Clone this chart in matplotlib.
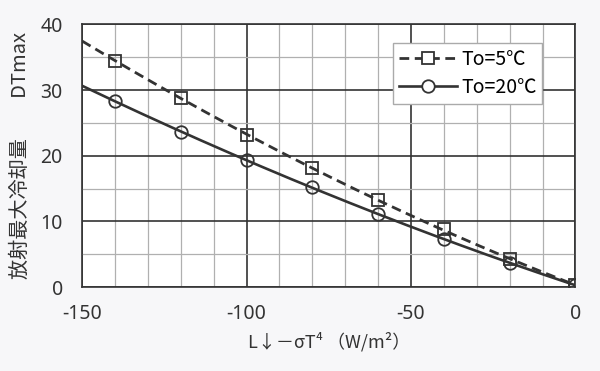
import numpy as np
import matplotlib
matplotlib.use("Agg")
import matplotlib.pyplot as plt
from matplotlib.lines import Line2D

plt.rcParams['font.family'] = ['Noto Sans CJK JP', 'DejaVu Sans']
plt.rcParams['axes.unicode_minus'] = False

x_vals = [-140, -120, -100, -80, -60, -40, -20, 0]
to5_vals = [34.5, 28.8, 23.2, 18.1, 13.2, 8.8, 4.3, 0.3]
to20_vals = [28.3, 23.7, 19.3, 15.2, 11.1, 7.3, 3.7, 0.3]
labels = ["To=5℃", "To=20℃"]
xticks = [-150, -100, -50, 0]
yticks = [0, 10, 20, 30, 40]

fig = plt.figure(figsize=(6.0, 3.71), dpi=100)
fig.patch.set_facecolor('#f7f7f9')
ax = fig.add_axes([0.137, 0.226, 0.822, 0.708])
ax.set_facecolor('white')

xfit = np.linspace(-150, 0, 200)
p5 = np.polyfit(x_vals, to5_vals, 2)
p20 = np.polyfit(x_vals, to20_vals, 2)

dash = (0, (3.5, 2))
ax.plot(xfit, np.polyval(p5, xfit), color='#333333', lw=2.0, ls=dash, zorder=3)
ax.plot(xfit, np.polyval(p20, xfit), color='#333333', lw=1.9, ls='-', zorder=3)
ax.plot(x_vals, to5_vals, ls='none', marker='s', ms=9, mfc='none', mec='#333333', mew=1.3, zorder=4)
ax.plot(x_vals, to20_vals, ls='none', marker='o', ms=9, mfc='none', mec='#333333', mew=1.3, zorder=4)

h1 = Line2D([], [], color='#333333', lw=2.0, ls=dash, marker='s', ms=9, mfc='white', mec='#333333', mew=1.3)
h2 = Line2D([], [], color='#333333', lw=1.9, ls='-', marker='o', ms=9, mfc='white', mec='#333333', mew=1.3)
leg = ax.legend([h1, h2], labels, loc='upper right', bbox_to_anchor=(0.953, 0.965),
                frameon=True, fancybox=False, handlelength=3.0,
                handletextpad=0.2, borderpad=0.3, labelspacing=0.35,
                prop={'family': ['Noto Sans CJK JP', 'DejaVu Sans'], 'size': 14})
leg.get_frame().set_edgecolor('#aaaaaa')
leg.get_frame().set_linewidth(1.0)
leg.get_frame().set_alpha(1)

ax.set_xlim(-150, 0)
ax.set_ylim(0, 40)
ax.set_xticks(xticks)
ax.set_yticks(yticks)
ax.set_xticks(np.arange(-150, 1, 10), minor=True)
ax.set_yticks(np.arange(0, 41, 5), minor=True)
ax.grid(which='minor', color='#b0b0b0', lw=0.9, zorder=0)
ax.grid(which='major', color='#333333', lw=1.2, zorder=1)
ax.tick_params(which='both', length=0)
ax.tick_params(axis='x', pad=12, labelsize=14, colors='#333333')
ax.tick_params(axis='y', pad=14, labelsize=14, colors='#333333')
for lab in ax.get_xticklabels() + ax.get_yticklabels():
    lab.set_family(['Noto Sans', 'DejaVu Sans'])
for s in ax.spines.values():
    s.set_color('#333333')
    s.set_linewidth(1.2)

ax.set_xlabel("L↓－σT⁴ （W/m²）", fontsize=13, color='#333333', labelpad=6)
ax.set_ylabel("放射最大冷却量　　DTmax", fontsize=14.5, color='#333333', labelpad=7)

fig.savefig("out.png", dpi=100, facecolor=fig.get_facecolor())
